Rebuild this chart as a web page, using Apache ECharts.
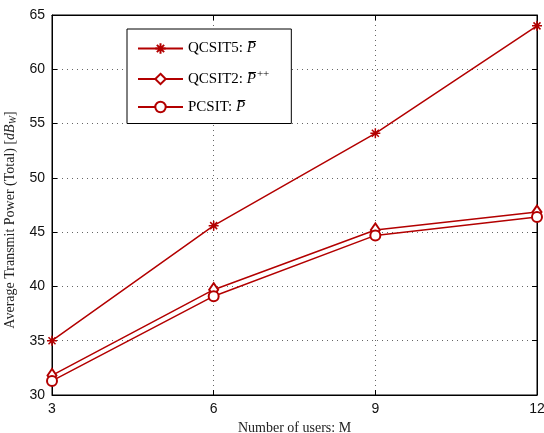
<!DOCTYPE html>
<html>
<head>
<meta charset="utf-8">
<script src="https://cdn.jsdelivr.net/npm/echarts@6/dist/echarts.min.js"></script>
<style>
  html, body { margin: 0; padding: 0; background: #fff; }
  #chart { width: 544px; height: 433px; }
</style>
</head>
<body>
<div id="chart"></div>
<script>
// data
const users = [3, 6, 9, 12]
const qcsit5 = [35.0, 45.6, 54.1, 64.0]
const qcsit2 = [31.8, 39.7, 45.2, 46.85]
const pcsit = [31.3, 39.1, 44.7, 46.4]
const yTicks = [30, 35, 40, 45, 50, 55, 60, 65]
const xTicks = [3, 6, 9, 12]

const red = '#b30000'
const serif = 'Liberation Serif'
const sans = 'Liberation Sans'

// asterisk marker (plus + cross)
const starPath = 'path://M5,0L5,10M0,5L10,5M1.5,1.5L8.5,8.5M1.5,8.5L8.5,1.5'

const chart = echarts.init(document.getElementById('chart'))

function pair(v) { return users.map((u, i) => [u, v[i]]) }

const dotted = { show: true, lineStyle: { color: '#666', type: [1, 4], width: 1 } }

const option = {
  animation: false,
  grid: {
    left: 52, right: 7, top: 15, bottom: 38,
    outerBoundsMode: 'none',
    containLabel: false,
    show: true, borderColor: '#000', borderWidth: 1
  },
  legend: {
    orient: 'vertical',
    left: 127, top: 29,
    padding: [12, 22, 9, 10],
    itemWidth: 45, itemHeight: 13, itemGap: 13,
    backgroundColor: '#fff',
    borderColor: '#000', borderWidth: 1,
    formatter: function (name) {
      if (name === 'QCSIT5') return '{t|QCSIT5: }{p|P\u0305}'
      if (name === 'QCSIT2') return '{t|QCSIT2: }{p|P\u0305}{s|++}'
      return '{t|PCSIT: }{p|P\u0305}'
    },
    textStyle: {
      rich: {
        t: { fontFamily: serif, fontSize: 15, color: '#000', lineHeight: 20 },
        p: { fontFamily: serif, fontSize: 15, fontStyle: 'italic', color: '#000', lineHeight: 20 },
        s: { fontFamily: serif, fontSize: 11, color: '#000', lineHeight: 20, verticalAlign: 'top', padding: [0, 0, 6, 1] }
      }
    },
    data: ['QCSIT5', 'QCSIT2', 'PCSIT']
  },
  xAxis: [{
    type: 'value', min: 3, max: 12, interval: 3,
    name: 'Number of users: M', nameLocation: 'middle', nameGap: 22,
    nameTextStyle: { fontFamily: serif, fontSize: 14, color: '#222' },
    axisLine: { lineStyle: { color: '#000', width: 1 } },
    axisTick: { inside: true, length: 5, lineStyle: { color: '#000' } },
    axisLabel: { fontFamily: sans, fontSize: 14, color: '#111', margin: 7 },
    splitLine: dotted
  }, {
    type: 'value', min: 3, max: 12, interval: 3, position: 'top',
    axisLine: { lineStyle: { color: '#000' } },
    axisTick: { inside: true, length: 5, lineStyle: { color: '#000' } },
    axisLabel: { show: false },
    splitLine: { show: false }
  }],
  yAxis: [{
    type: 'value', min: 30, max: 65, interval: 5,
    name: '{n|Average Transmit Power (Total) [}{i|dB}{w|W}{n|]}',
    nameLocation: 'middle', nameGap: 30,
    nameTextStyle: {
      padding: [0, 30, 0, 0],
      rich: {
        n: { fontFamily: serif, fontSize: 14, color: '#222' },
        i: { fontFamily: serif, fontSize: 14, fontStyle: 'italic', color: '#222' },
        w: { fontFamily: serif, fontSize: 10, fontStyle: 'italic', color: '#222', verticalAlign: 'bottom', padding: [6, 0, 0, 0] }
      }
    },
    axisLine: { show: true, lineStyle: { color: '#000', width: 1 } },
    axisTick: { show: true, inside: true, length: 5, lineStyle: { color: '#000' } },
    axisLabel: { fontFamily: sans, fontSize: 14, color: '#111', margin: 7 },
    splitLine: dotted
  }, {
    type: 'value', min: 30, max: 65, interval: 5, position: 'right',
    axisLine: { show: true, lineStyle: { color: '#000' } },
    axisTick: { show: true, inside: true, length: 5, lineStyle: { color: '#000' } },
    axisLabel: { show: false },
    splitLine: { show: false }
  }],
  series: [
    {
      name: 'QCSIT5', type: 'line', data: pair(qcsit5),
      symbol: starPath, symbolSize: 10,
      lineStyle: { color: red, width: 1.5 },
      itemStyle: { color: red, borderColor: red, borderWidth: 1.5 }
    },
    {
      name: 'QCSIT2', type: 'line', data: pair(qcsit2),
      symbol: 'emptyDiamond', symbolSize: [9, 13],
      lineStyle: { color: red, width: 1.5 },
      itemStyle: { color: red, borderColor: red, borderWidth: 1.5 }
    },
    {
      name: 'PCSIT', type: 'line', data: pair(pcsit),
      symbol: 'emptyCircle', symbolSize: 10,
      lineStyle: { color: red, width: 1.5 },
      itemStyle: { color: red, borderColor: red, borderWidth: 1.5 }
    }
  ]
}

chart.setOption(option)
</script>
</body>
</html>
